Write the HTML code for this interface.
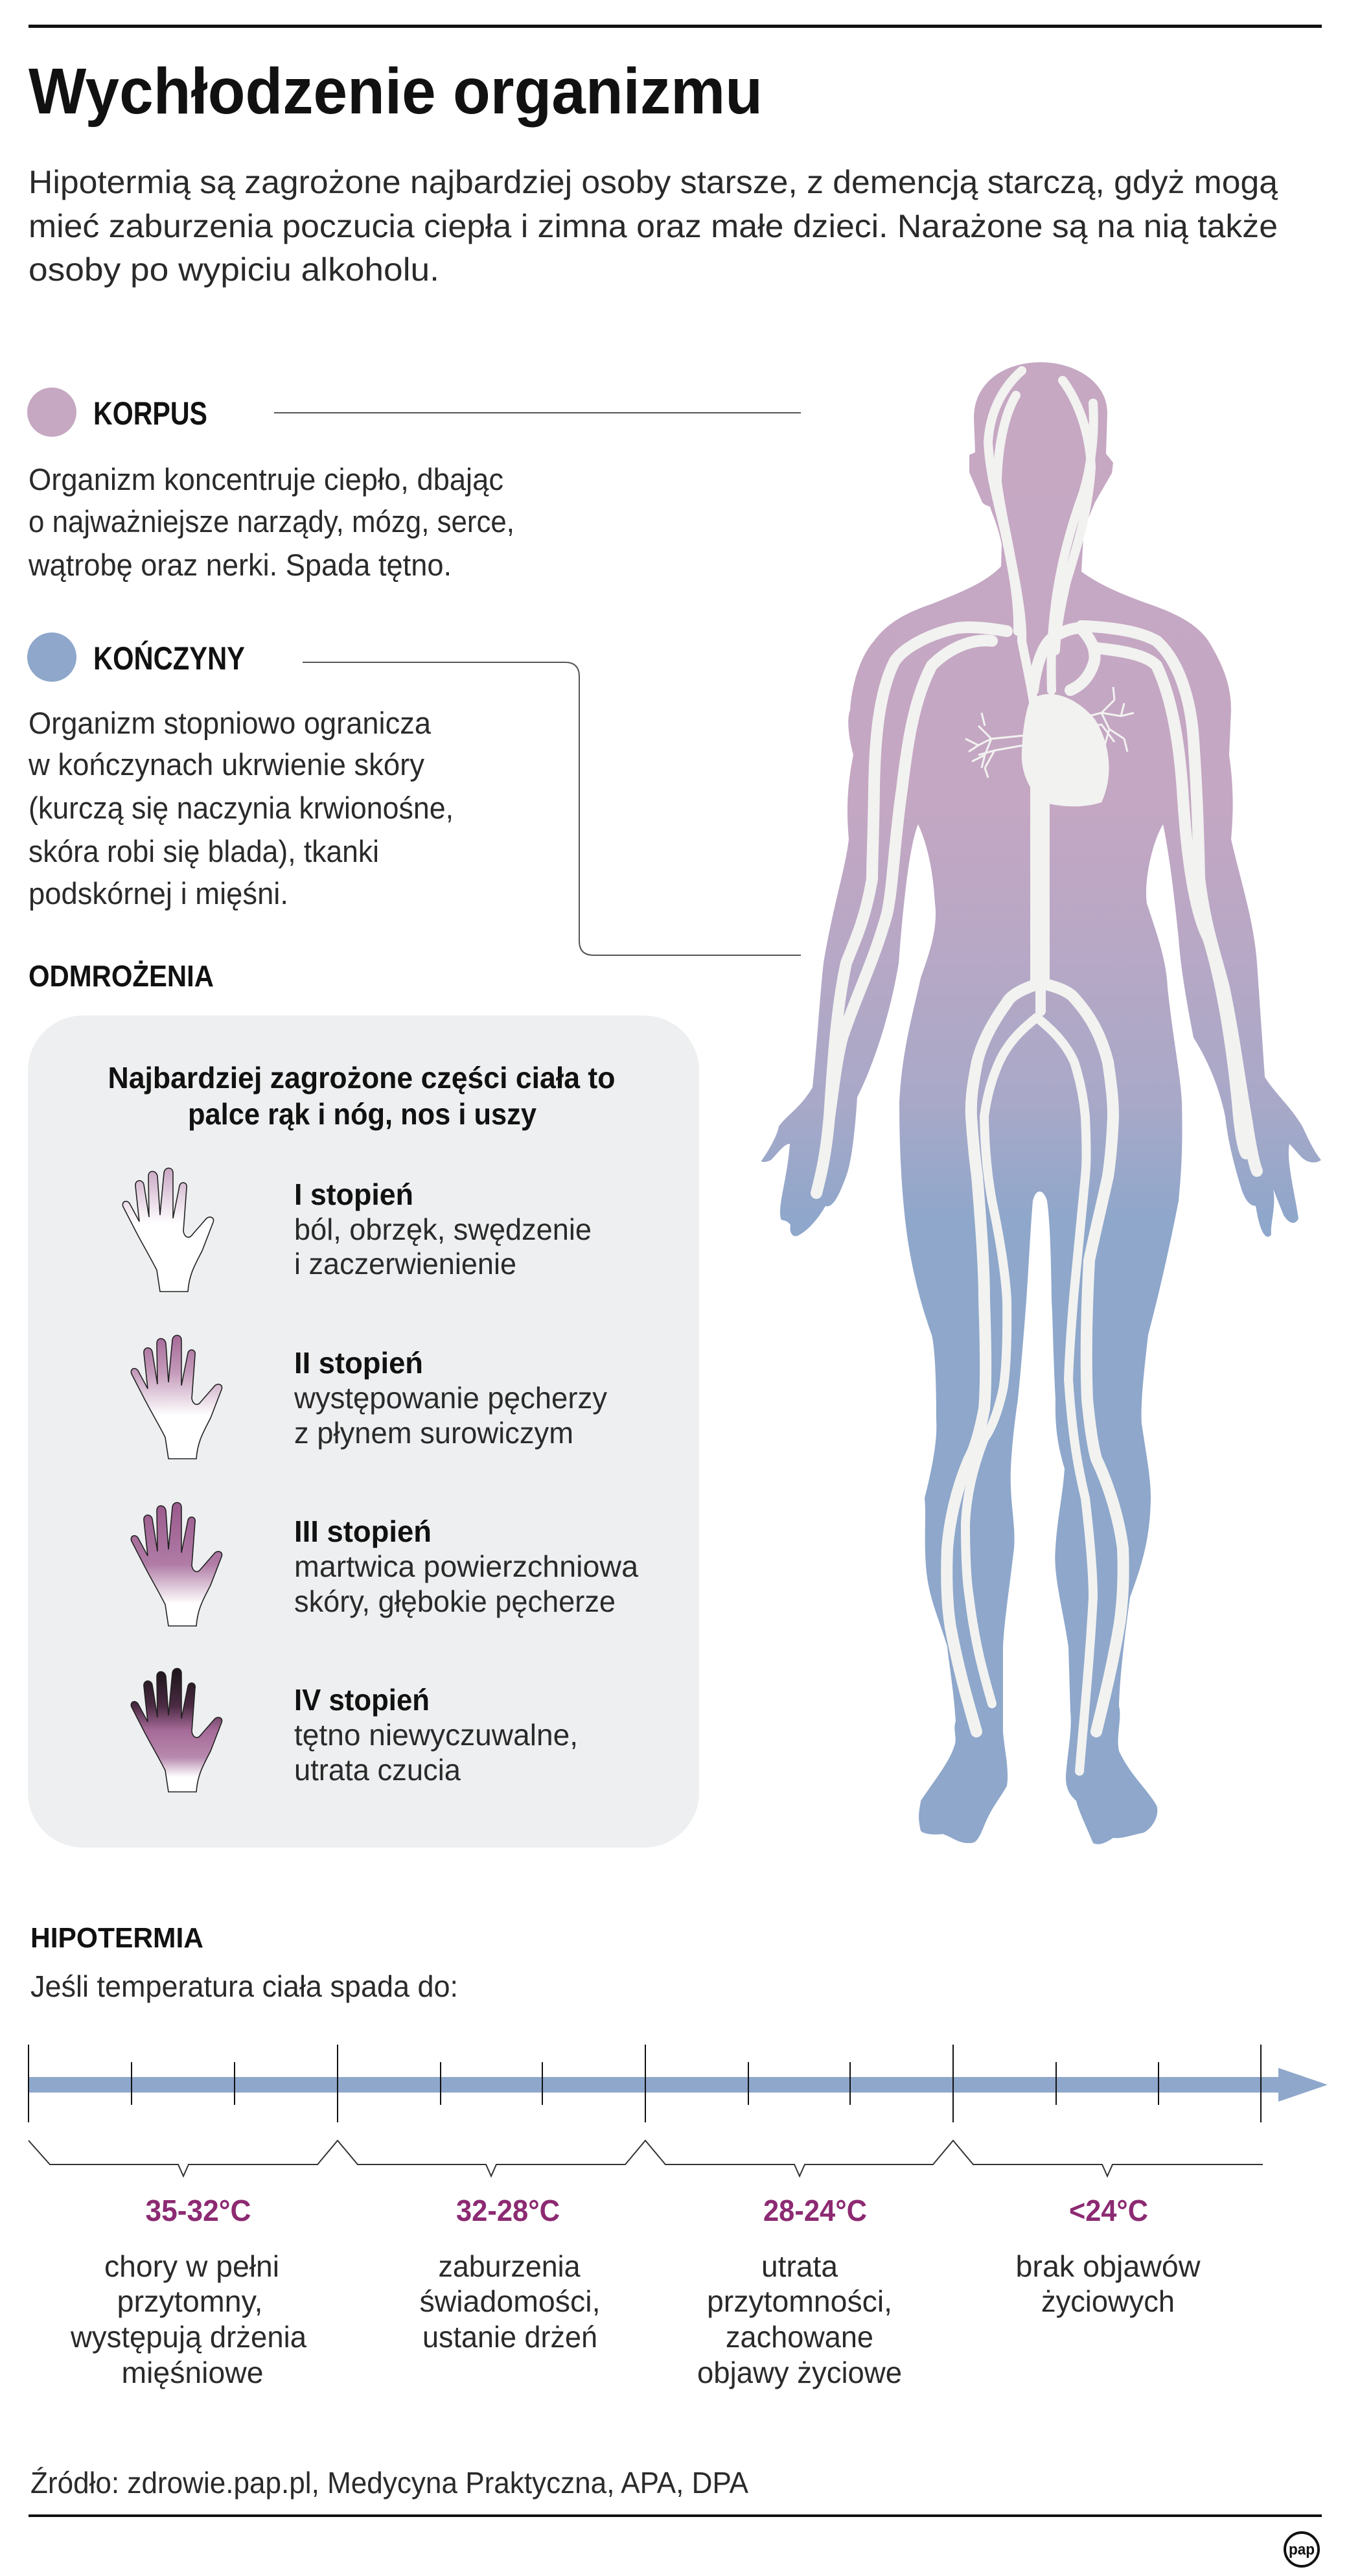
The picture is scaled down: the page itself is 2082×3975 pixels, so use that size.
<!DOCTYPE html>
<html><head><meta charset="utf-8"><style>html,body{margin:0;padding:0;background:#fff}svg{display:block}</style></head>
<body>
<svg width="2082" height="3975" viewBox="0 0 2082 3975" xmlns="http://www.w3.org/2000/svg" font-family="Liberation Sans, sans-serif">
<defs>
<linearGradient id="bg" x1="0" y1="550" x2="0" y2="2850" gradientUnits="userSpaceOnUse">
<stop offset="0" stop-color="#c6a8c3"/><stop offset="0.3" stop-color="#c4a7c3"/><stop offset="0.5" stop-color="#a9a8c8"/><stop offset="0.58" stop-color="#8ea7cb"/><stop offset="1" stop-color="#8ea7cb"/>
</linearGradient>
<linearGradient id="h1" x1="0" y1="0" x2="0" y2="1"><stop offset="0" stop-color="#c9a6c4"/><stop offset="0.45" stop-color="#fff"/><stop offset="1" stop-color="#fff"/></linearGradient>
<linearGradient id="h2" x1="0" y1="0" x2="0" y2="1"><stop offset="0" stop-color="#a56a98"/><stop offset="0.3" stop-color="#c49bbb"/><stop offset="0.65" stop-color="#fff"/><stop offset="1" stop-color="#fff"/></linearGradient>
<linearGradient id="h3" x1="0" y1="0" x2="0" y2="1"><stop offset="0" stop-color="#9a5a8c"/><stop offset="0.5" stop-color="#b07ca6"/><stop offset="0.82" stop-color="#fff"/><stop offset="1" stop-color="#fff"/></linearGradient>
<linearGradient id="h4" x1="0" y1="0" x2="0" y2="1"><stop offset="0" stop-color="#1a1418"/><stop offset="0.3" stop-color="#4a2a42"/><stop offset="0.5" stop-color="#a56a98"/><stop offset="0.72" stop-color="#b889ae"/><stop offset="0.88" stop-color="#fff"/></linearGradient>
<path id="hand" d="M60,193 L55,160 C45,140 30,115 20,95 L3,62 C0,55 8,50 13,57 L28,85 L22,30 C21,20 33,19 35,28 L43,78 L42,15 C42,5 54,5 56,15 L60,75 L66,10 C67,0 80,0 80,10 L80,80 L90,30 C92,22 103,24 101,33 L96,100 C98,110 105,112 110,105 L130,82 C135,75 145,78 142,86 L125,130 C115,150 105,165 103,193 Z"/>
</defs>

<rect x="44" y="38" width="1996" height="5" fill="#111"/>
<text x="44" y="175" font-size="100" font-weight="bold" textLength="1133" lengthAdjust="spacingAndGlyphs" fill="#111">Wychłodzenie organizmu</text>
<g font-size="50" fill="#2a2a2a">
<text x="44" y="298" textLength="1928" lengthAdjust="spacingAndGlyphs">Hipotermią są zagrożone najbardziej osoby starsze, z demencją starczą, gdyż mogą</text>
<text x="44" y="366" textLength="1928" lengthAdjust="spacingAndGlyphs">mieć zaburzenia poczucia ciepła i zimna oraz małe dzieci. Narażone są na nią także</text>
<text x="44" y="433" textLength="634" lengthAdjust="spacingAndGlyphs">osoby po wypiciu alkoholu.</text>
</g>

<circle cx="80" cy="636" r="38" fill="#c6a8c3"/>
<text x="144" y="655" font-size="50" font-weight="bold" textLength="176" lengthAdjust="spacingAndGlyphs" fill="#111">KORPUS</text>
<line x1="423" y1="637" x2="1236" y2="637" stroke="#555" stroke-width="2"/>
<g font-size="47" fill="#2a2a2a">
<text x="44" y="756" textLength="733" lengthAdjust="spacingAndGlyphs">Organizm koncentruje ciepło, dbając</text>
<text x="44" y="821" textLength="750" lengthAdjust="spacingAndGlyphs">o najważniejsze narządy, mózg, serce,</text>
<text x="44" y="888" textLength="653" lengthAdjust="spacingAndGlyphs">wątrobę oraz nerki. Spada tętno.</text>
</g>
<circle cx="80" cy="1014" r="38" fill="#8ea7cb"/>
<text x="144" y="1033" font-size="50" font-weight="bold" textLength="234" lengthAdjust="spacingAndGlyphs" fill="#111">KOŃCZYNY</text>
<path d="M467,1022 L872,1022 Q894,1022 894,1044 L894,1452 Q894,1474 916,1474 L1236,1474" fill="none" stroke="#555" stroke-width="2"/>
<g font-size="47" fill="#2a2a2a">
<text x="44" y="1132" textLength="621" lengthAdjust="spacingAndGlyphs">Organizm stopniowo ogranicza</text>
<text x="44" y="1196" textLength="611" lengthAdjust="spacingAndGlyphs">w kończynach ukrwienie skóry</text>
<text x="44" y="1263" textLength="656" lengthAdjust="spacingAndGlyphs">(kurczą się naczynia krwionośne,</text>
<text x="44" y="1330" textLength="541" lengthAdjust="spacingAndGlyphs">skóra robi się blada), tkanki</text>
<text x="44" y="1395" textLength="401" lengthAdjust="spacingAndGlyphs">podskórnej i mięśni.</text>
</g>

<text x="44" y="1522" font-size="46" font-weight="bold" textLength="286" lengthAdjust="spacingAndGlyphs" fill="#111">ODMROŻENIA</text>
<rect x="43" y="1567" width="1036" height="1284" rx="85" fill="#eeeff0"/>
<g font-size="46" font-weight="bold" fill="#111" text-anchor="middle">
<text x="558" y="1679" textLength="783" lengthAdjust="spacingAndGlyphs">Najbardziej zagrożone części ciała to</text>
<text x="559" y="1735" textLength="538" lengthAdjust="spacingAndGlyphs">palce rąk i nóg, nos i uszy</text>
</g>
<g stroke="#222" stroke-width="1.6">
<use href="#hand" transform="translate(187,1800)" fill="url(#h1)"/>
<use href="#hand" transform="translate(200,2058)" fill="url(#h2)"/>
<use href="#hand" transform="translate(200,2316)" fill="url(#h3)"/>
<use href="#hand" transform="translate(200,2572)" fill="url(#h4)"/>
</g>
<g fill="#2a2a2a" font-size="46">
<text x="454" y="1859" font-weight="bold" fill="#111" textLength="184" lengthAdjust="spacingAndGlyphs">I stopień</text>
<text x="454" y="1913" textLength="459" lengthAdjust="spacingAndGlyphs">ból, obrzęk, swędzenie</text>
<text x="454" y="1966" textLength="343" lengthAdjust="spacingAndGlyphs">i zaczerwienienie</text>
<text x="454" y="2119" font-weight="bold" fill="#111" textLength="199" lengthAdjust="spacingAndGlyphs">II stopień</text>
<text x="454" y="2173" textLength="483" lengthAdjust="spacingAndGlyphs">występowanie pęcherzy</text>
<text x="454" y="2227" textLength="431" lengthAdjust="spacingAndGlyphs">z płynem surowiczym</text>
<text x="454" y="2379" font-weight="bold" fill="#111" textLength="212" lengthAdjust="spacingAndGlyphs">III stopień</text>
<text x="454" y="2433" textLength="531" lengthAdjust="spacingAndGlyphs">martwica powierzchniowa</text>
<text x="454" y="2487" textLength="496" lengthAdjust="spacingAndGlyphs">skóry, głębokie pęcherze</text>
<text x="454" y="2639" font-weight="bold" fill="#111" textLength="209" lengthAdjust="spacingAndGlyphs">IV stopień</text>
<text x="454" y="2693" textLength="438" lengthAdjust="spacingAndGlyphs">tętno niewyczuwalne,</text>
<text x="454" y="2747" textLength="257" lengthAdjust="spacingAndGlyphs">utrata czucia</text>
</g>

<!-- body -->
<path fill="url(#bg)" d="M1606,559 C1660,559 1709,590 1709,637 L1707,700 L1718,714 L1716,730 L1690,775 C1680,800 1672,815 1672,828 L1669,882 C1700,905 1740,920 1773,932 C1810,945 1845,960 1865,989 C1890,1030 1900,1060 1900,1096 L1897,1165 C1905,1220 1903,1260 1900,1295 C1915,1360 1935,1420 1940,1486 C1945,1560 1950,1630 1952,1662 C1970,1690 1990,1705 2010,1738 C2020,1760 2030,1780 2039,1790 C2030,1796 2018,1795 2008,1785 L1990,1765 C1985,1790 1998,1840 2004,1880 C2000,1890 1990,1890 1981,1875 L1965,1835 C1970,1860 1960,1890 1962,1905 C1955,1915 1945,1905 1938,1861 C1925,1860 1920,1845 1917,1838 C1905,1800 1895,1760 1891,1723 C1880,1670 1860,1630 1842,1601 C1830,1540 1822,1490 1819,1448 C1812,1380 1805,1320 1795,1272 C1778,1300 1765,1360 1770,1394 C1785,1440 1800,1480 1802,1524 C1810,1600 1822,1660 1824,1700 C1826,1780 1822,1820 1819,1853 C1800,1950 1785,2010 1772,2060 C1765,2120 1760,2170 1762,2197 C1770,2250 1776,2280 1776,2312 C1775,2380 1760,2420 1744,2465 C1735,2530 1728,2590 1727,2633 C1732,2650 1722,2680 1727,2702 C1745,2740 1770,2760 1785,2786 C1790,2800 1780,2820 1765,2828 C1745,2832 1730,2838 1718,2836 C1705,2845 1695,2848 1687,2844 C1675,2815 1665,2795 1661,2779 C1645,2765 1645,2750 1645,2740 C1648,2700 1655,2670 1652,2641 L1649,2541 C1640,2480 1625,2430 1629,2389 C1632,2340 1640,2310 1643,2266 C1632,2230 1628,2200 1629,2159 C1625,2080 1625,2040 1623,2006 C1622,1930 1620,1880 1616,1853 C1612,1838 1600,1830 1594,1853 C1590,1900 1588,1950 1584,2006 C1580,2060 1575,2120 1571,2159 C1565,2200 1562,2230 1560,2266 C1558,2320 1568,2350 1565,2389 C1558,2450 1550,2500 1548,2541 L1548,2672 C1550,2700 1558,2730 1554,2756 C1540,2780 1530,2790 1519,2817 C1510,2840 1505,2845 1496,2844 C1480,2845 1470,2835 1455,2830 C1440,2832 1425,2830 1421,2825 C1415,2800 1420,2790 1421,2779 C1440,2750 1465,2720 1473,2694 C1478,2680 1470,2670 1475,2656 C1472,2610 1465,2570 1462,2541 C1450,2500 1435,2470 1430,2427 C1425,2380 1430,2340 1427,2312 C1440,2260 1447,2220 1445,2190 C1445,2130 1443,2080 1438,2060 C1420,2010 1405,1950 1398,1891 C1392,1840 1388,1780 1388,1700 C1392,1620 1410,1560 1421,1509 C1435,1470 1448,1430 1443,1394 C1440,1340 1430,1300 1417,1272 C1405,1300 1395,1380 1387,1486 C1375,1560 1350,1640 1323,1693 C1320,1740 1315,1790 1306,1815 C1295,1845 1285,1865 1274,1861 C1260,1885 1245,1900 1231,1907 C1222,1910 1218,1900 1220,1890 C1212,1880 1205,1885 1205,1880 C1200,1860 1215,1820 1219,1765 C1210,1765 1200,1780 1190,1790 C1180,1795 1172,1793 1176,1790 C1190,1770 1200,1750 1202,1738 C1215,1720 1235,1710 1254,1678 C1262,1600 1265,1540 1271,1486 C1285,1400 1305,1340 1310,1295 C1305,1240 1310,1200 1317,1165 C1305,1120 1310,1100 1312,1096 C1315,1050 1330,1010 1349,989 C1370,960 1400,945 1438,932 C1480,915 1520,900 1545,874 L1546,840 C1540,810 1530,790 1528,782 C1522,780 1518,778 1516,775 L1496,729 L1496,702 L1505,698 L1503,645 C1503,590 1550,559 1606,559 Z"/>
<g fill="none" stroke="#f2f2f0" stroke-linecap="round">
<g stroke-width="18">
<path d="M1554,974 C1520,968 1490,966 1473,970 C1430,980 1395,1000 1381,1020 C1355,1070 1350,1150 1349,1218 C1348,1290 1346,1330 1346,1356 C1335,1420 1320,1450 1306,1486 C1290,1560 1285,1650 1280,1723 C1275,1780 1268,1810 1260,1841"/>
<path d="M1531,989 C1500,985 1465,1000 1438,1027 C1410,1080 1400,1150 1392,1218 C1380,1300 1378,1370 1369,1410 C1350,1480 1320,1540 1300,1601 C1290,1640 1285,1690 1280,1723"/>
<path d="M1669,966 C1720,968 1760,975 1785,989 C1820,1020 1838,1080 1842,1142 C1848,1230 1850,1300 1851,1356 C1860,1430 1878,1480 1889,1524 C1905,1600 1915,1680 1923,1723 C1930,1770 1935,1795 1940,1807"/>
<path d="M1692,1000 C1740,1005 1770,1012 1785,1027 C1810,1080 1820,1150 1825,1218 C1830,1300 1840,1400 1865,1448 C1890,1530 1905,1640 1912,1723 C1916,1760 1920,1775 1923,1780"/>
<path d="M1594,1065 C1600,1020 1612,990 1629,981 C1650,970 1662,968 1669,970 C1682,985 1692,1000 1689,1020 C1682,1045 1668,1058 1652,1065"/>
<path d="M1606,1517 C1580,1525 1560,1535 1554,1547 C1530,1580 1515,1610 1508,1639 C1500,1680 1498,1700 1499,1723 C1502,1770 1505,1790 1508,1815 C1515,1900 1519,1960 1519,2006 C1522,2090 1522,2140 1519,2174 C1512,2210 1505,2235 1496,2251 C1475,2300 1465,2350 1462,2389 C1460,2440 1462,2480 1467,2511 C1480,2580 1495,2630 1507,2672"/>
<path d="M1606,1517 C1630,1522 1650,1530 1658,1540 C1685,1570 1700,1600 1710,1639 C1716,1680 1718,1700 1718,1723 C1716,1770 1713,1795 1710,1815 C1698,1870 1688,1910 1681,1945 C1676,2040 1676,2110 1678,2159 C1682,2200 1686,2230 1692,2251 C1715,2300 1728,2350 1733,2389 C1735,2440 1732,2480 1727,2511 C1715,2580 1702,2630 1692,2672"/>
</g>
<g stroke-width="14">
<path d="M1600,1570 C1575,1590 1555,1610 1542,1639 C1528,1670 1522,1700 1519,1723 C1520,1780 1525,1820 1531,1853 C1545,1920 1552,1970 1554,2006 C1555,2080 1552,2120 1548,2144 C1540,2180 1530,2205 1519,2220 C1500,2270 1492,2310 1490,2350 C1490,2400 1492,2440 1496,2465 C1505,2540 1520,2590 1531,2629"/>
<path d="M1600,1570 C1625,1590 1645,1610 1658,1639 C1668,1670 1673,1700 1675,1723 C1677,1770 1677,1795 1675,1815 C1668,1890 1662,1950 1658,1991 C1652,2060 1650,2100 1649,2128 C1655,2220 1665,2270 1675,2312 C1683,2380 1687,2430 1687,2465 C1682,2560 1672,2660 1666,2733"/>
<path d="M1577,572 C1545,600 1527,640 1525,683 C1528,740 1545,790 1554,836 C1565,890 1572,930 1571,974"/>
<path d="M1568,610 C1550,640 1540,690 1539,744 C1545,790 1555,830 1560,860 C1572,920 1578,960 1577,989"/>
<path d="M1640,587 C1665,620 1682,670 1684,721 C1680,790 1660,850 1646,897 C1636,940 1630,975 1629,1004"/>
<path d="M1687,622 C1690,670 1684,720 1672,760 C1650,820 1635,880 1628,940 C1622,990 1622,1030 1623,1065"/>
<path d="M1577,989 C1585,1030 1592,1060 1596,1090"/>
</g>
<path d="M1605,1200 L1605,1517" stroke-width="30" stroke-linecap="butt"/>
<path d="M1606,1517 L1606,1560" stroke-width="16"/>
</g>
<g fill="#f2f2f0">
<path d="M1590,1080 C1620,1060 1660,1075 1690,1110 C1715,1150 1718,1200 1700,1238 C1670,1248 1635,1245 1610,1238 C1588,1220 1575,1190 1577,1160 C1578,1130 1582,1100 1590,1080 Z"/>
</g>
<g fill="none" stroke="#f2f2f0" stroke-width="3">
<path d="M1580,1135 L1530,1140 L1510,1120 M1530,1140 L1510,1150 L1490,1140 M1530,1140 L1520,1165 L1500,1175 M1580,1150 L1535,1158 L1520,1185 M1535,1158 L1510,1165 M1520,1120 L1515,1100 M1510,1150 L1495,1160 M1520,1185 L1525,1200 M1520,1165 L1515,1185"/>
<path d="M1660,1110 L1700,1100 L1720,1080 M1700,1100 L1730,1105 L1750,1100 M1700,1100 L1712,1125 L1735,1140 M1660,1125 L1700,1118 L1720,1145 M1720,1080 L1718,1060 M1730,1105 L1735,1085 M1735,1140 L1740,1160 M1712,1125 L1705,1150"/>
</g>

<!-- hypothermia -->
<text x="47" y="3005" font-size="44" font-weight="bold" textLength="267" lengthAdjust="spacingAndGlyphs" fill="#111">HIPOTERMIA</text>
<text x="47" y="3081" font-size="46" textLength="660" lengthAdjust="spacingAndGlyphs" fill="#2a2a2a">Jeśli temperatura ciała spada do:</text>
<rect x="44" y="3205" width="1932" height="24" fill="#8ea7cb"/>
<polygon points="1973,3191 2049,3217 1973,3243" fill="#8ea7cb"/>
<g stroke="#111" stroke-width="2">
<path d="M44,3155 V3275 M521,3155 V3275 M996,3155 V3275 M1471,3155 V3275 M1946,3155 V3275"/>
<path d="M203,3182 V3248 M362,3182 V3248 M680,3182 V3248 M837,3182 V3248 M1155,3182 V3248 M1312,3182 V3248 M1630,3182 V3248 M1788,3182 V3248"/>
</g>
<path d="M44,3303 L77,3340 L275,3340 L283,3358 L291,3340 L490,3340 L521,3303 L552,3340 L750,3340 L758,3358 L766,3340 L965,3340 L996,3303 L1027,3340 L1226,3340 L1234,3358 L1242,3340 L1440,3340 L1471,3303 L1502,3340 L1701,3340 L1709,3358 L1717,3340 L1949,3340" fill="none" stroke="#333" stroke-width="2"/>
<g font-size="46" font-weight="bold" fill="#8c2a72" text-anchor="middle">
<text x="306" y="3427" textLength="163" lengthAdjust="spacingAndGlyphs">35-32°C</text>
<text x="784" y="3427" textLength="160" lengthAdjust="spacingAndGlyphs">32-28°C</text>
<text x="1258" y="3427" textLength="160" lengthAdjust="spacingAndGlyphs">28-24°C</text>
<text x="1711" y="3427" textLength="122" lengthAdjust="spacingAndGlyphs">&lt;24°C</text>
</g>
<g font-size="46" fill="#2a2a2a" text-anchor="middle">
<text x="296" y="3513" textLength="270" lengthAdjust="spacingAndGlyphs">chory w pełni</text>
<text x="293" y="3567" textLength="225" lengthAdjust="spacingAndGlyphs">przytomny,</text>
<text x="291" y="3622" textLength="364" lengthAdjust="spacingAndGlyphs">występują drżenia</text>
<text x="297" y="3677" textLength="219" lengthAdjust="spacingAndGlyphs">mięśniowe</text>
<text x="786" y="3513" textLength="219" lengthAdjust="spacingAndGlyphs">zaburzenia</text>
<text x="787" y="3567" textLength="279" lengthAdjust="spacingAndGlyphs">świadomości,</text>
<text x="787" y="3622" textLength="270" lengthAdjust="spacingAndGlyphs">ustanie drżeń</text>
<text x="1234" y="3513" textLength="118" lengthAdjust="spacingAndGlyphs">utrata</text>
<text x="1234" y="3567" textLength="286" lengthAdjust="spacingAndGlyphs">przytomności,</text>
<text x="1234" y="3622" textLength="228" lengthAdjust="spacingAndGlyphs">zachowane</text>
<text x="1234" y="3677" textLength="316" lengthAdjust="spacingAndGlyphs">objawy życiowe</text>
<text x="1710" y="3513" textLength="285" lengthAdjust="spacingAndGlyphs">brak objawów</text>
<text x="1710" y="3567" textLength="206" lengthAdjust="spacingAndGlyphs">życiowych</text>
</g>
<text x="47" y="3847" font-size="46" textLength="1108" lengthAdjust="spacingAndGlyphs" fill="#2a2a2a">Źródło: zdrowie.pap.pl, Medycyna Praktyczna, APA, DPA</text>
<rect x="44" y="3880" width="1996" height="4" fill="#111"/>
<circle cx="2009" cy="3934" r="26" fill="#fff" stroke="#111" stroke-width="4"/>
<text x="2009" y="3942" font-size="24" font-weight="bold" text-anchor="middle" textLength="40" lengthAdjust="spacingAndGlyphs" fill="#111">pap</text>
</svg>
</body></html>
